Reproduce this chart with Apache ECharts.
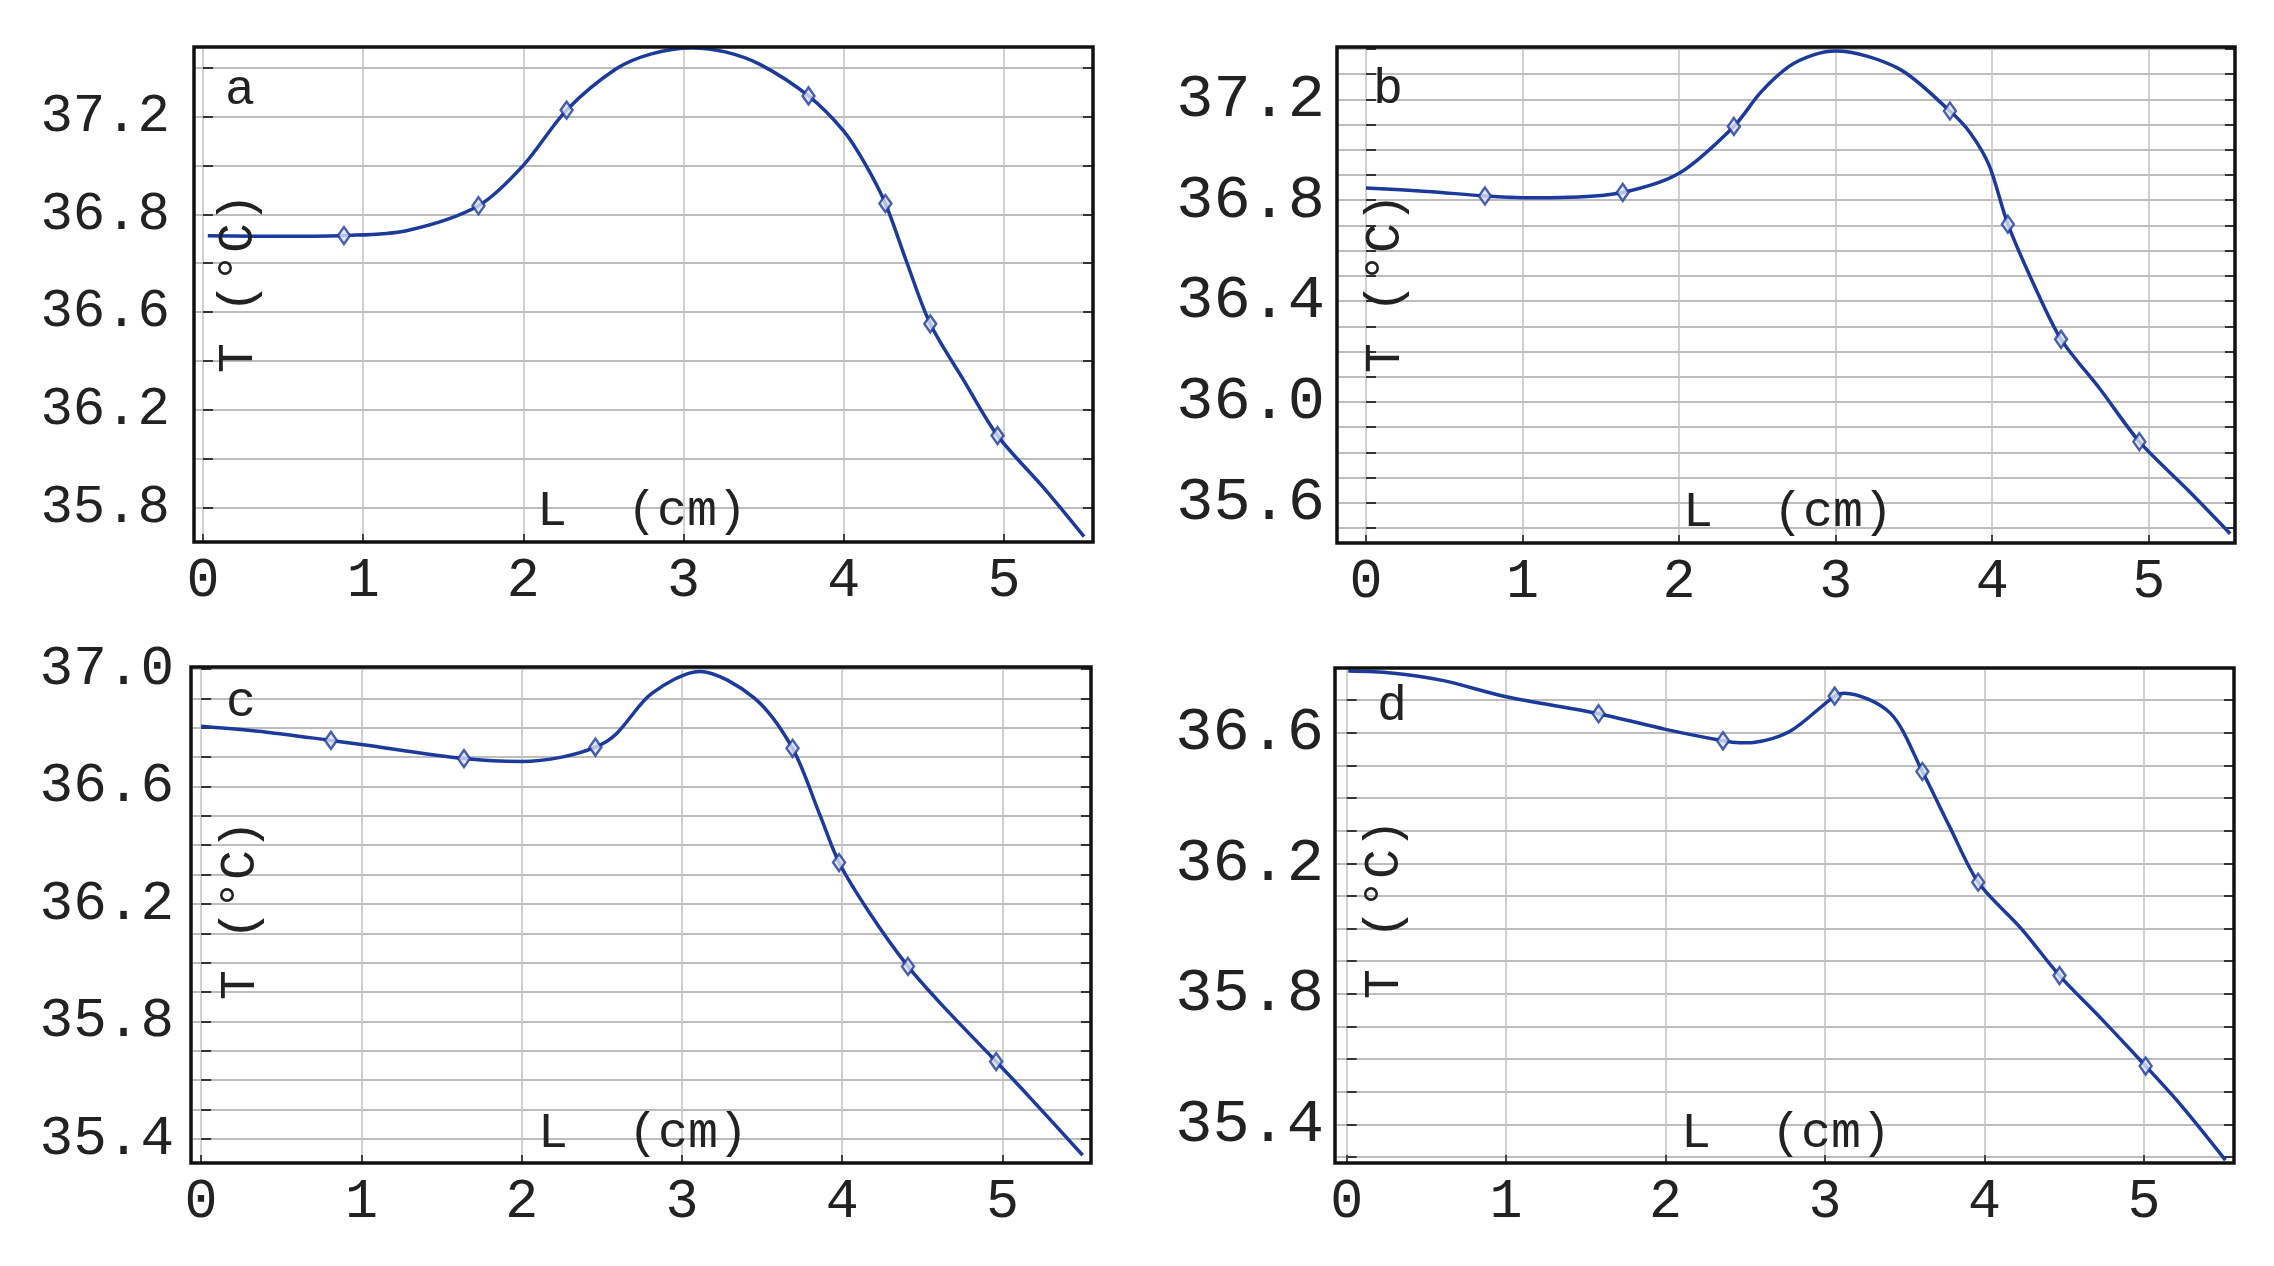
<!DOCTYPE html>
<html>
<head>
<meta charset="utf-8">
<script src="https://cdn.jsdelivr.net/npm/echarts@6/dist/echarts.min.js"></script>
<style>
  html, body { margin: 0; padding: 0; background: #fff; }
  #chart { width: 2274px; height: 1266px; }
</style>
</head>
<body>
<div id="chart"></div>
<script>
// x ticks shared by all four panels (L in cm)
const xTicks = [0, 1, 2, 3, 4, 5];

// panel a
const aCurveX = [0.03, 0.54, 0.88, 1.27, 1.72, 2.00, 2.27, 2.58, 2.80, 3.05, 3.26, 3.48, 3.78, 4.00, 4.13, 4.26, 4.39, 4.54, 4.75, 4.96, 5.25, 5.50];
const aCurveY = [36.712, 36.710, 36.713, 36.733, 36.835, 37.000, 37.226, 37.395, 37.456, 37.480, 37.464, 37.412, 37.284, 37.140, 37.010, 36.844, 36.610, 36.352, 36.120, 35.895, 35.680, 35.482];
const aMarkX = [0.88, 1.72, 2.27, 3.78, 4.26, 4.54, 4.96];
const aMarkY = [36.713, 36.835, 37.226, 37.284, 36.844, 36.352, 35.895];
const aYTickPos = [37.2, 36.8, 36.4, 36.0, 35.6];
const aYTickLabels = ['37.2', '36.8', '36.6', '36.2', '35.8'];

// panel b
const bCurveX = [0.00, 0.39, 0.76, 1.00, 1.30, 1.64, 2.00, 2.35, 2.52, 2.70, 2.85, 3.00, 3.40, 3.73, 3.86, 3.98, 4.10, 4.27, 4.44, 4.69, 4.94, 5.25, 5.52];
const bCurveY = [36.849, 36.835, 36.817, 36.810, 36.812, 36.831, 36.907, 37.093, 37.227, 37.330, 37.375, 37.392, 37.323, 37.154, 37.067, 36.939, 36.705, 36.460, 36.248, 36.050, 35.842, 35.650, 35.477];
const bMarkX = [0.76, 1.64, 2.35, 3.73, 4.10, 4.44, 4.94];
const bMarkY = [36.817, 36.831, 37.093, 37.154, 36.705, 36.248, 35.842];
const bYTickPos = [37.2, 36.8, 36.4, 36.0, 35.6];
const bYTickLabels = ['37.2', '36.8', '36.4', '36.0', '35.6'];

// panel c
const cCurveX = [0.00, 0.41, 0.81, 1.00, 1.64, 2.00, 2.25, 2.46, 2.59, 2.81, 3.11, 3.45, 3.69, 3.86, 3.98, 4.17, 4.41, 4.62, 4.96, 5.17, 5.50];
const cCurveY = [36.805, 36.785, 36.757, 36.743, 36.695, 36.685, 36.700, 36.734, 36.779, 36.916, 36.992, 36.902, 36.730, 36.504, 36.341, 36.170, 35.987, 35.857, 35.663, 35.541, 35.344];
const cMarkX = [0.81, 1.64, 2.46, 3.69, 3.98, 4.41, 4.96];
const cMarkY = [36.757, 36.695, 36.734, 36.730, 36.341, 35.987, 35.663];
const cYTickPos = [37.0, 36.6, 36.2, 35.8, 35.4];
const cYTickLabels = ['37.0', '36.6', '36.2', '35.8', '35.4'];

// panel d
const dCurveX = [0.01, 0.28, 0.60, 1.00, 1.58, 2.00, 2.36, 2.46, 2.55, 2.78, 3.06, 3.12, 3.41, 3.61, 3.78, 3.96, 4.23, 4.47, 4.73, 5.01, 5.23, 5.51];
const dCurveY = [36.789, 36.783, 36.760, 36.710, 36.658, 36.610, 36.575, 36.569, 36.570, 36.604, 36.712, 36.721, 36.659, 36.481, 36.313, 36.142, 36.000, 35.856, 35.725, 35.579, 35.460, 35.291];
const dMarkX = [1.58, 2.36, 3.06, 3.61, 3.96, 4.47, 5.01];
const dMarkY = [36.658, 36.575, 36.712, 36.481, 36.142, 35.856, 35.579];
const dYTickPos = [36.6, 36.2, 35.8, 35.4];
const dYTickLabels = ['36.6', '36.2', '35.8', '35.4'];

const FONT = '"Liberation Mono", "DejaVu Sans Mono", monospace';
const LINE_COLOR = '#1c3a9c';

const panels = [
  { letter: 'a', curveX: aCurveX, curveY: aCurveY, markX: aMarkX, markY: aMarkY, tickPos: aYTickPos, tickLabels: aYTickLabels,
    step: 0.2, xRange: [-0.056, 5.556], yRange: [35.46, 37.484],
    grid: { left: 194, top: 47, width: 899, height: 495 }, ySize: 54, yMargin: 24,
    letterPos: [240, 91], yTitlePos: [239, 283], xTitlePos: [642, 512] },
  { letter: 'b', curveX: bCurveX, curveY: bCurveY, markX: bMarkX, markY: bMarkY, tickPos: bYTickPos, tickLabels: bYTickLabels,
    step: 0.1, xRange: [-0.185, 5.551], yRange: [35.44, 37.408],
    grid: { left: 1337, top: 47, width: 898, height: 496 }, ySize: 62, yMargin: 12,
    letterPos: [1388, 90], yTitlePos: [1386, 283], xTitlePos: [1788, 513] },
  { letter: 'c', curveX: cCurveX, curveY: cCurveY, markX: cMarkX, markY: cMarkY, tickPos: cYTickPos, tickLabels: cYTickLabels,
    step: 0.1, xRange: [-0.063, 5.552], yRange: [35.3175, 37.007],
    grid: { left: 191, top: 667, width: 900, height: 496 }, ySize: 56, yMargin: 17,
    letterPos: [241, 703], yTitlePos: [241, 910], xTitlePos: [643, 1134] },
  { letter: 'd', curveX: dCurveX, curveY: dCurveY, markX: dMarkX, markY: dMarkY, tickPos: dYTickPos, tickLabels: dYTickLabels,
    step: 0.1, xRange: [-0.073, 5.564], yRange: [35.282, 36.798],
    grid: { left: 1335, top: 668, width: 899, height: 495 }, ySize: 62, yMargin: 11,
    letterPos: [1392, 707], yTitlePos: [1385, 909], xTitlePos: [1786, 1134] }
];

function near(list, v) {
  return list.findIndex(t => Math.abs(t - v) < 1e-6);
}

const grids = [], xAxes = [], yAxes = [], series = [], graphics = [];

panels.forEach((p, i) => {
  // z above the split lines so the black frame is not covered by the edge grid lines
  grids.push(Object.assign({ show: true, z: 10, borderColor: '#111', borderWidth: 3.5, backgroundColor: 'transparent' }, p.grid));

  xAxes.push({
    gridIndex: i, type: 'value', min: p.xRange[0], max: p.xRange[1],
    minInterval: 1, maxInterval: 1,
    axisLine: { show: false },
    axisTick: { show: true, inside: true, length: 8, lineStyle: { color: '#444', width: 2 } },
    splitLine: { show: true, lineStyle: { color: '#c2c2c2', width: 1.5 } },
    axisLabel: {
      margin: 12, fontSize: 55, fontFamily: FONT, color: '#222',
      formatter: v => near(xTicks, v) >= 0 ? String(xTicks[near(xTicks, v)]) : ''
    }
  });

  const yBase = {
    gridIndex: i, type: 'value', min: p.yRange[0], max: p.yRange[1],
    minInterval: p.step, maxInterval: p.step,
    axisLine: { show: false },
    axisTick: { show: true, inside: true, length: 10, lineStyle: { color: '#333', width: 2 } }
  };
  yAxes.push(Object.assign({}, yBase, {
    position: 'left',
    splitLine: { show: true, lineStyle: { color: '#bdbdbd', width: 2 } },
    axisLabel: {
      margin: p.yMargin, fontSize: p.ySize, fontFamily: FONT, color: '#222',
      formatter: v => { const k = near(p.tickPos, v); return k >= 0 ? p.tickLabels[k] : ''; }
    }
  }));
  yAxes.push(Object.assign({}, yBase, {
    position: 'right',
    splitLine: { show: false },
    axisLabel: { show: false }
  }));

  series.push({
    type: 'line', xAxisIndex: i, yAxisIndex: 2 * i,
    data: p.curveX.map((x, k) => [x, p.curveY[k]]),
    smooth: 0.3, symbol: 'none', showSymbol: false,
    lineStyle: { color: LINE_COLOR, width: 3.5 }, z: 3
  });
  series.push({
    type: 'scatter', xAxisIndex: i, yAxisIndex: 2 * i,
    data: p.markX.map((x, k) => [x, p.markY[k]]),
    symbol: 'diamond', symbolSize: [12, 17],
    itemStyle: { color: '#dfe4f5', borderColor: LINE_COLOR, borderWidth: 2.5 }, z: 4
  });

  graphics.push({ type: 'text', x: p.letterPos[0], y: p.letterPos[1], z: 20,
    style: { text: p.letter, font: '50px ' + FONT, fill: '#222', textAlign: 'center', textVerticalAlign: 'middle' } });
  graphics.push({ type: 'text', x: p.yTitlePos[0], y: p.yTitlePos[1], rotation: Math.PI / 2, z: 20,
    style: { text: 'T (°C)', font: '50px ' + FONT, fill: '#222', textAlign: 'center', textVerticalAlign: 'middle' } });
  graphics.push({ type: 'text', x: p.xTitlePos[0], y: p.xTitlePos[1], z: 20,
    style: { text: 'L  (cm)', font: '50px ' + FONT, fill: '#222', textAlign: 'center', textVerticalAlign: 'middle' } });
});

const chart = echarts.init(document.getElementById('chart'));
chart.setOption({
  animation: false,
  backgroundColor: '#fff',
  grid: grids,
  xAxis: xAxes,
  yAxis: yAxes,
  series: series,
  graphic: graphics
});
window.addEventListener('resize', () => chart.resize());
</script>
</body>
</html>
